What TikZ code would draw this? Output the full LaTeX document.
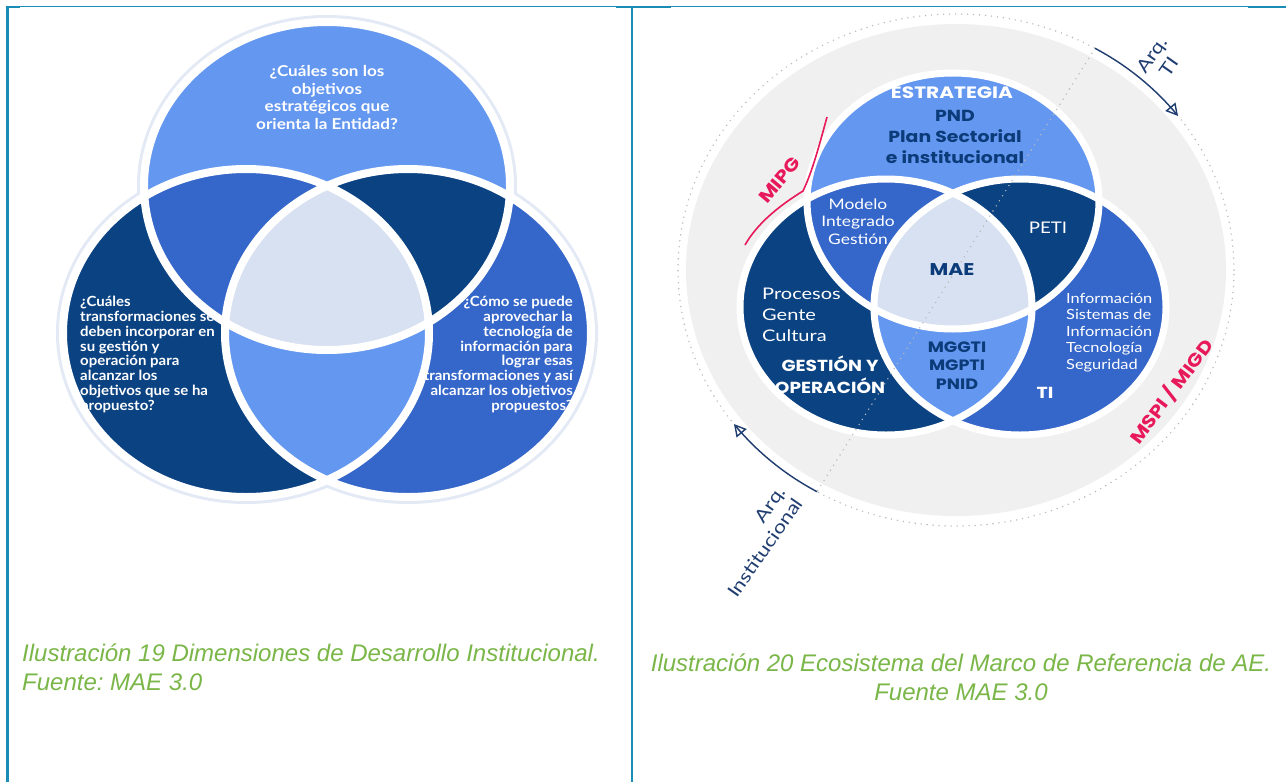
\documentclass[tikz,border=0pt]{standalone}
\usepackage{fontspec}
\usepackage{graphicx}
\setmainfont{Lato}
\newfontfamily\heavy{Poppins}
\newfontfamily\capfont{Liberation Sans}
\usetikzlibrary{arrows.meta}
\definecolor{cLight}{HTML}{6497F0}
\definecolor{cMed}{HTML}{3566C9}
\definecolor{cNavy}{HTML}{0A4282}
\definecolor{cPale}{HTML}{D7E1F1}
\definecolor{cTxt}{HTML}{0B3B78}
\definecolor{cFrame}{HTML}{1A8DB5}
\definecolor{cGreen}{HTML}{7AB648}
\definecolor{cPink}{HTML}{E8195A}
\definecolor{cArrow}{HTML}{1F3D70}
\definecolor{cDisc}{HTML}{F0F0F0}
\definecolor{cGlow}{HTML}{E3EAF5}
\newcommand\sxc[2]{\scalebox{#1}[1]{\begin{tabular}{@{}c@{}}#2\end{tabular}}}
\newcommand\sxl[2]{\scalebox{#1}[1]{\begin{tabular}{@{}l@{}}#2\end{tabular}}}
\newcommand\sxr[2]{\scalebox{#1}[1]{\begin{tabular}{@{}r@{}}#2\end{tabular}}}
\tikzset{
  gapline/.style={draw=white, line width=8pt},
  gapline2/.style={draw=white, line width=7pt},
  glowline/.style={draw=cGlow, line width=14pt},
  wtxt/.style={text=white, inner sep=0pt},
  ntxt/.style={text=cTxt, inner sep=0pt},
  arrline/.style={draw=cArrow, line width=1.4pt, -{Triangle[open, length=12pt, width=13pt, line width=1.4pt]}},
  dotline/.style={draw=gray!55, line width=1.6pt, line cap=round, dash pattern=on 0pt off 6pt},
  pinktxt/.style={text=cPink, inner sep=0pt, font=\heavy\bfseries\fontsize{18}{18}\selectfont},
  arqtxt/.style={text=cArrow, inner sep=0pt, font=\fontsize{18}{21}\selectfont},
  captxt/.style={text=cGreen, inner sep=0pt, font=\capfont\itshape\fontsize{24}{28}\selectfont},
  frameline/.style={draw=cFrame, line width=1.2pt},
  framethick/.style={draw=cFrame, line width=2.2pt},
}
\begin{document}
\begin{tikzpicture}[x=1pt,y=-1pt]
\useasboundingbox (0,0) rectangle (1286,782);
\fill[white] (0,0) rectangle (1286,782);
% frame
\draw[frameline] (7,6.5) -- (1286,6.5);
\draw[framethick] (7.5,5.5) -- (7.5,782);
\draw[framethick] (632,5.5) -- (632,782);
\draw[framethick] (6.5,7.2) -- (20,7.2);
\draw[framethick] (616,7.2) -- (671,7.2);
\draw[framethick] (1248,7.2) -- (1286,7.2);

% ===== LEFT VENN =====
\def\LT{(327,186) ellipse [x radius=183pt, y radius=164pt]}
\def\LL{(246,333) ellipse [x radius=183pt, y radius=164pt]}
\def\LR{(408,333) ellipse [x radius=183pt, y radius=164pt]}
\path[glowline] \LT; \path[glowline] \LL; \path[glowline] \LR;
\fill[cLight] \LT; \fill[cNavy] \LL; \fill[cMed] \LR;
\begin{scope} \clip \LL; \fill[cLight] \LR; \end{scope}
\begin{scope} \clip \LT; \fill[cMed] \LL; \fill[cNavy] \LR; \end{scope}
\begin{scope} \clip \LT; \clip \LL; \fill[cPale] \LR; \end{scope}
\node[wtxt, font=\bfseries\fontsize{15}{17.6}\selectfont] (ltop) at (327,99.5)
  {\sxc{1.14}{¿Cuáles son los\\objetivos\\estratégicos que\\orienta la Entidad?}};
\node[wtxt, font=\bfseries\fontsize{14}{14.7}\selectfont, anchor=west] (lleft) at (80,355.5)
  {\sxl{1.07}{¿Cuáles\\transformaciones se\\deben incorporar en\\su gestión y\\operación para\\alcanzar los\\objetivos que se ha\\propuesto?}};
\node[wtxt, font=\bfseries\fontsize{14}{14.7}\selectfont, anchor=east] (lright) at (573,355.5)
  {\sxr{1.07}{¿Cómo se puede\\aprovechar la\\tecnología de\\información para\\lograr esas\\transformaciones y así\\alcanzar los objetivos\\propuestos?}};
\path[gapline] \LT; \path[gapline] \LL; \path[gapline] \LR;

% ===== RIGHT DIAGRAM =====
\fill[cDisc] (956,270) ellipse [x radius=270pt, y radius=246pt];
\draw[dotline] (956,270) ellipse [x radius=278pt, y radius=256pt];
\def\RT{(953,201) ellipse [x radius=146pt, y radius=128pt]}
\def\RL{(886,307) ellipse [x radius=146pt, y radius=128pt]}
\def\RR{(1020,307) ellipse [x radius=146pt, y radius=128pt]}
\fill[cLight] \RT; \fill[cNavy] \RL; \fill[cMed] \RR;
\begin{scope} \clip \RL; \fill[cLight] \RR; \end{scope}
\begin{scope} \clip \RT; \fill[cMed] \RL; \fill[cNavy] \RR; \end{scope}
\begin{scope} \clip \RT; \clip \RL; \fill[cPale] \RR; \end{scope}
\path[gapline2] \RT; \path[gapline2] \RL; \path[gapline2] \RR;

% diagonal dotted diameter
\coordinate (d1) at ({956+278*cos(60)},{270-256*sin(60)});
\coordinate (d2) at ({956+278*cos(240)},{270-256*sin(240)});
\draw[dotline] (d1) -- (d2);

% texts
\node[wtxt, font=\heavy\bfseries\fontsize{16.5}{20}\selectfont] (estr) at (952,94) {\sxc{1.22}{ESTRATEGIA}};
\node[ntxt, font=\heavy\bfseries\fontsize{16}{21}\selectfont] (pnd) at (955,138) {\sxc{1.18}{PND\\Plan Sectorial\\e institucional}};
\node[wtxt, font=\fontsize{14.5}{17.5}\selectfont] (mig) at (858,223) {\sxc{1.2}{Modelo\\Integrado\\Gestión}};
\node[wtxt, font=\fontsize{16}{16}\selectfont] (peti) at (1048,230) {\sxc{1.17}{PETI}};
\node[ntxt, font=\heavy\bfseries\fontsize{17}{17}\selectfont] (mae) at (952,272) {\sxc{1.2}{MAE}};
\node[ntxt, font=\heavy\bfseries\fontsize{15}{18.5}\selectfont] (mg) at (957,367) {\sxc{1.17}{MGGTI\\MGPTI\\PNID}};
\node[wtxt, font=\fontsize{16}{21}\selectfont, anchor=west] (pgc) at (762,316) {\sxl{1.25}{Procesos\\Gente\\Cultura}};
\node[wtxt, font=\heavy\bfseries\fontsize{16}{21}\selectfont] (gyo) at (830,378) {\sxc{1.16}{GESTIÓN Y\\OPERACIÓN}};
\node[wtxt, font=\fontsize{14}{16.6}\selectfont, anchor=west] (info) at (1066,333) {\sxl{1.17}{Información\\Sistemas de\\Información\\Tecnología\\Seguridad}};
\node[wtxt, font=\heavy\bfseries\fontsize{16}{16}\selectfont] (ti) at (1045,395) {\sxc{1.18}{TI}};

% pink brackets/labels
\coordinate (m1) at (827,117);
\coordinate (m2) at (803,191);
\coordinate (m3) at (745,245);
\draw[cPink, line width=1.6pt] (m1) .. controls (818,150) and (812,172) .. (m2) .. controls (782,204) and (758,222) .. (m3);
\node[pinktxt, rotate=50] (mipg) at (782,182) {\sxc{1.15}{MIPG}};
\node[pinktxt, rotate=53] (mspi) at (1172,392) {\sxc{1.15}{MSPI / MIGD}};

% arrows along the outer ring
\draw[arrline] plot[domain=60:37, samples=40, smooth, variable=\t] ({956+278*cos(\t)},{270-256*sin(\t)});
\draw[arrline] plot[domain=240:217, samples=40, smooth, variable=\t] ({956+278*cos(\t)},{270-256*sin(\t)});
\node[arqtxt, rotate=55] (arqti) at (1162,62) {\sxc{1.2}{Arq.\\TI}};
\node[arqtxt, rotate=55] (arqin) at (758,543) {\sxr{1.2}{Arq.\\Institucional}};

% captions
\node[captxt, anchor=west] (cap1a) at (22,653) {Ilustración 19 Dimensiones de Desarrollo Institucional.};
\node[captxt, anchor=west] (cap1b) at (22,682) {Fuente:\ MAE 3.0};
\node[captxt] (cap2a) at (961,663) {Ilustración 20 Ecosistema del Marco de Referencia de AE.};
\node[captxt] (cap2b) at (961,692) {Fuente MAE 3.0};
\end{tikzpicture}
\end{document}
